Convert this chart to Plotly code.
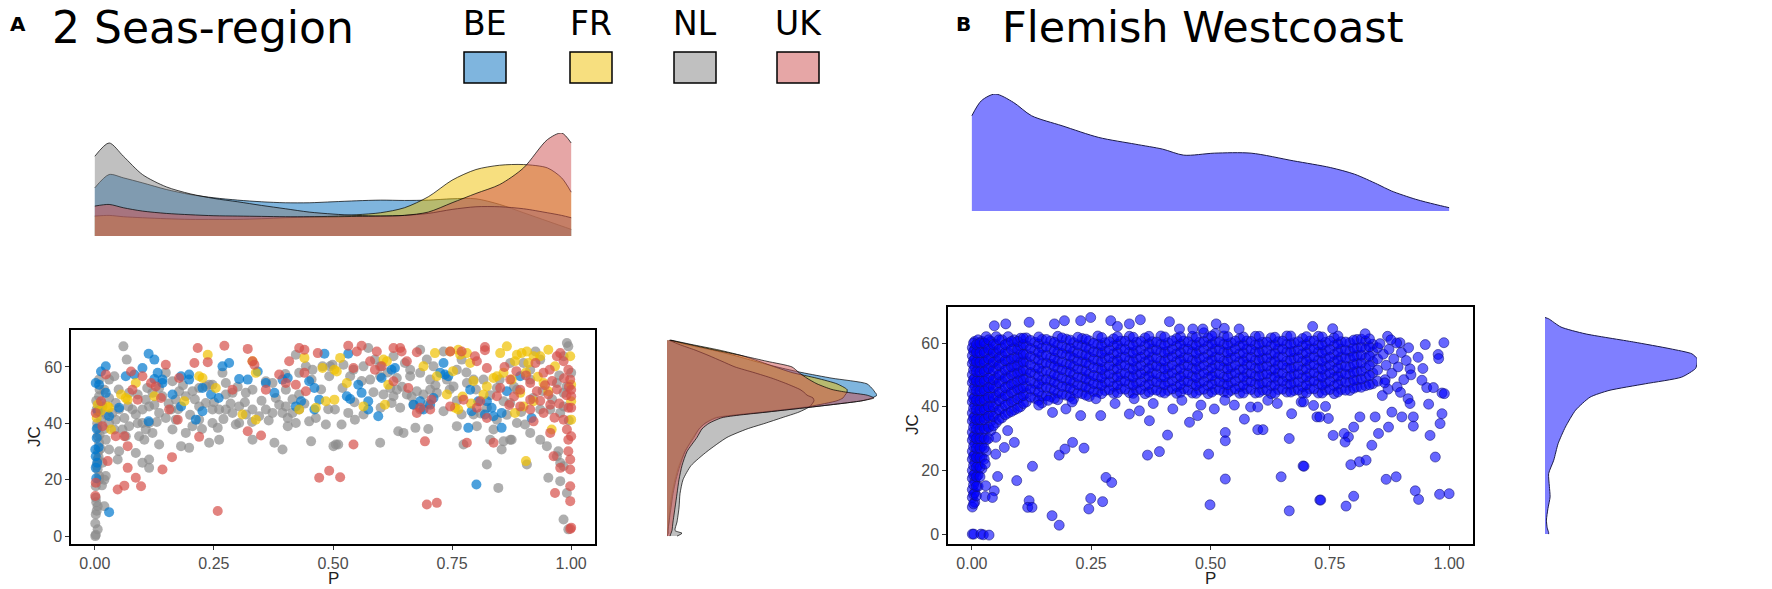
import plotly.graph_objects as go

W, H = 1772, 589

# ---------------- data: panel A (2 Seas-region) ----------------
groups = ["BE", "FR", "NL", "UK"]

be_pts = [(0.113,64.7),(0.125,62.6),(0.013,58.4),(0.023,60.2),(0.002,54.3),(0.009,53.7),(0.023,50.8),(0.006,44.3),
          (0.004,38.1),(0.004,34.8),(0.002,28.3),(0.001,30.7),(0.002,24.2),(0.030,8.5),(0.030,42.5),(0.051,45.5),
          (0.065,56.7),(0.083,57.3),(0.100,59.6),(0.125,55.7),(0.132,57.9),(0.142,55.5),(0.142,54.3),(0.163,50.2),
          (0.181,56.7),(0.198,57.3),(0.198,55.5),(0.226,44.3),(0.226,52.5),(0.244,50.2),(0.260,49.0),(0.268,60.2),
          (0.282,61.4),(0.303,55.7),(0.321,55.5),(0.342,58.4),(0.359,54.3),(0.377,50.8),(0.394,55.5),(0.405,56.1),
          (0.422,46.0),(0.433,47.8),(0.450,54.9),(0.461,52.5),(0.471,48.4),(0.461,44.9),(0.482,64.7),(0.113,40.7),
          (0.181,46.0),(0.212,41.3),(0.532,64.7),(0.529,49.6),(0.553,53.7),(0.560,50.8),(0.574,47.8),(0.574,44.9),
          (0.595,42.5),(0.602,56.1),(0.623,59.0),(0.630,59.6),(0.669,46.6),(0.683,47.8),(0.690,44.9),(0.704,46.6),
          (0.711,49.0),(0.725,57.9),(0.735,57.3),(0.732,61.4),(0.742,56.7),(0.788,51.9),(0.784,38.4),(0.791,44.3),
          (0.805,47.8),(0.823,47.8),(0.819,43.1),(0.833,45.5),(0.837,42.5),(0.854,43.7),(0.854,38.4),(0.865,51.4),
          (0.893,56.7),(0.917,41.9),(0.801,18.3),(0.536,48.6),(0.003,20.5),(0.005,26.0),(0.008,31.5)]

fr_pts = [(0.237,64.3),(0.219,56.7),(0.226,56.1),(0.086,54.3),(0.055,50.2),(0.065,49.0),(0.069,48.4),(0.027,46.0),
          (0.030,45.5),(0.006,46.6),(0.034,37.8),(0.125,49.6),(0.188,47.8),(0.254,52.5),(0.310,43.1),(0.338,41.3),
          (0.338,57.9),(0.429,44.9),(0.464,45.5),(0.485,47.8),(0.478,59.6),(0.503,59.0),(0.503,48.4),(0.440,63.2),
          (0.331,62.0),(0.515,63.2),(0.508,58.4),(0.529,54.3),(0.606,62.6),(0.613,62.0),(0.616,53.7),(0.609,46.6),
          (0.564,46.0),(0.690,60.2),(0.714,64.9),(0.718,56.7),(0.746,65.5),(0.763,66.1),(0.767,64.3),(0.781,64.9),
          (0.788,61.4),(0.739,50.2),(0.756,45.5),(0.763,44.9),(0.816,50.2),(0.823,53.1),(0.837,56.1),(0.844,56.7),
          (0.851,64.9),(0.865,67.3),(0.882,62.0),(0.886,64.3),(0.896,64.9),(0.907,65.5),(0.910,61.4),(0.921,63.8),
          (0.935,63.8),(0.952,66.1),(0.966,60.2),(0.942,54.3),(0.952,51.4),(0.921,47.8),(0.893,50.8),(0.882,43.7),
          (0.900,46.0),(0.959,37.8),(0.998,63.8),(1.000,47.8),(1.000,41.3),(1.000,53.7),(0.905,26.6),(0.875,55.5),
          (0.858,57.9),(0.004,42.0),(0.012,44.5),(0.752,58.5),(0.795,55.0),(0.772,49.5),(0.790,47.0),(0.905,58.0),
          (0.930,56.5)]

nl_pts = [(0.060,67.3),(0.067,62.6),(0.041,56.7),(0.030,55.5),(0.009,49.6),(0.016,46.0),(0.037,43.7),(0.044,41.3),
          (0.058,37.8),(0.079,44.9),(0.086,43.1),(0.100,44.9),(0.114,46.0),(0.125,46.6),(0.135,43.7),(0.100,40.1),
          (0.107,37.8),(0.121,36.6),(0.093,35.4),(0.104,34.2),(0.135,32.5),(0.114,27.2),(0.114,24.2),(0.086,29.5),
          (0.051,30.1),(0.048,27.2),(0.023,34.2),(0.030,30.7),(0.009,33.1),(0.006,27.2),(0.006,23.6),(0.009,20.1),
          (0.002,17.7),(0.002,13.6),(0.006,10.6),(0.002,7.7),(0.006,2.4),(0.001,0.0),(0.020,10.6),(0.009,21.3),
          (0.149,41.9),(0.160,44.9),(0.170,41.3),(0.163,37.8),(0.181,31.9),(0.198,31.3),(0.191,36.6),(0.205,39.0),
          (0.219,41.3),(0.219,46.0),(0.233,47.2),(0.247,44.9),(0.261,44.9),(0.275,44.9),(0.289,43.7),(0.303,46.0),
          (0.317,43.1),(0.303,40.1),(0.296,39.6),(0.258,38.4),(0.247,40.1),(0.240,33.1),(0.261,34.2),(0.331,44.9),
          (0.345,42.5),(0.359,44.9),(0.373,43.7),(0.387,46.6),(0.401,46.0),(0.405,41.9),(0.405,39.0),(0.422,40.1),
          (0.394,43.7),(0.415,43.7),(0.429,44.9),(0.454,33.6),(0.485,39.6),(0.506,32.5),(0.450,40.7),(0.359,54.9),
          (0.373,54.3),(0.331,51.9),(0.317,50.8),(0.289,50.8),(0.275,54.3),(0.247,53.7),(0.233,53.1),(0.219,52.5),
          (0.205,51.4),(0.177,51.4),(0.163,54.9),(0.149,57.9),(0.135,52.5),(0.121,50.8),(0.107,48.4),(0.090,50.2),
          (0.072,50.8),(0.051,44.9),(0.062,41.9),(0.072,39.0),(0.030,40.1),(0.041,37.8),(0.429,57.9),(0.443,60.2),
          (0.457,59.0),(0.478,60.2),(0.492,56.7),(0.499,60.8),(0.401,51.9),(0.422,64.3),(0.429,50.2),(0.464,41.9),
          (0.377,33.1),(0.394,30.7),(0.331,34.2),(0.240,53.7),(0.268,57.9),(0.275,50.2),(0.191,49.6),(0.170,48.4),
          (0.142,49.6),(0.114,40.1),(0.023,21.3),(0.016,26.0),(0.006,35.4),(0.006,38.4),(0.013,41.3),(0.020,51.9),
          (0.009,55.5),(0.030,49.0),(0.044,47.2),(0.100,26.0),(0.065,35.4),(0.003,48.0),(0.004,45.0),(0.005,40.0),
          (0.010,36.0),(0.012,31.0),(0.008,28.0),(0.004,25.0),(0.015,18.0),(0.020,20.0),(0.003,12.0),(0.004,9.0),
          (0.001,4.5),(0.002,0.5),(0.007,30.0),(0.012,44.0),(0.015,47.0),(0.025,43.0),(0.020,38.0),(0.010,52.0),
          (0.574,66.7),(0.588,62.6),(0.599,60.2),(0.627,63.8),(0.651,61.4),(0.662,59.0),(0.697,62.6),(0.711,60.2),
          (0.732,65.5),(0.739,55.5),(0.760,59.0),(0.770,62.6),(0.781,54.3),(0.795,55.5),(0.753,53.1),(0.704,55.5),
          (0.683,57.9),(0.662,56.7),(0.634,56.1),(0.620,52.5),(0.599,56.7),(0.578,55.5),(0.564,60.2),(0.543,59.0),
          (0.522,60.8),(0.494,60.2),(0.504,44.9),(0.532,43.7),(0.546,41.3),(0.564,43.1),(0.634,51.9),(0.655,50.2),
          (0.676,51.4),(0.690,50.2),(0.704,51.9),(0.718,50.8),(0.732,44.3),(0.683,44.9),(0.669,46.6),(0.606,50.2),
          (0.623,47.2),(0.627,49.6),(0.641,45.5),(0.518,39.6),(0.511,32.5),(0.599,33.1),(0.637,37.2),(0.648,36.6),
          (0.673,38.4),(0.700,38.0),(0.760,39.0),(0.770,43.1),(0.774,32.5),(0.795,43.1),(0.823,45.5),(0.837,37.8),
          (0.844,41.3),(0.858,33.6),(0.823,25.4),(0.847,17.1),(0.854,30.7),(0.875,34.2),(0.886,40.1),(0.872,47.2),
          (0.886,51.9),(0.858,47.8),(0.844,52.5),(0.900,61.4),(0.914,59.0),(0.925,65.5),(0.935,62.6),(0.914,55.5),
          (0.935,44.9),(0.956,44.9),(0.977,43.7),(0.984,46.0),(0.991,68.5),(0.994,67.3),(0.984,63.8),(0.970,54.3),
          (0.984,50.8),(1.000,57.9),(0.903,39.6),(0.914,36.6),(0.935,34.2),(0.949,31.9),(0.973,30.1),(0.970,28.3),
          (0.977,26.0),(0.984,24.8),(0.952,20.7),(0.977,19.5),(0.991,15.3),(0.984,5.9),(0.994,2.4),(0.907,25.4),
          (0.830,34.2),(0.872,34.2),(0.802,39.0),(0.501,31.9),(0.816,55.5),(0.872,61.4),(0.683,66.1),(0.536,56.7),
          (0.050,52.0),(0.070,46.0),(0.090,40.0),(0.110,52.5),(0.130,40.5),(0.155,47.0),(0.175,45.0),(0.185,53.5),
          (0.200,43.0),(0.210,48.5),(0.225,38.0),(0.250,47.5),(0.270,41.5),(0.285,47.0),(0.300,53.0),(0.315,47.5),
          (0.330,40.5),(0.350,48.0),(0.365,41.0),(0.380,49.0),(0.400,57.5),(0.415,48.5),(0.440,47.0),(0.455,55.5),
          (0.475,52.0),(0.490,45.0),(0.520,52.5),(0.545,47.5),(0.560,55.0),(0.585,51.0),(0.600,45.5),(0.615,58.0),
          (0.645,53.0),(0.665,49.5),(0.700,47.0),(0.715,53.5),(0.745,52.0),(0.760,48.0),(0.780,58.0),(0.800,52.0),
          (0.810,43.5),(0.830,50.0),(0.850,55.5),(0.865,43.0),(0.880,53.0),(0.895,44.0),(0.920,49.0),(0.940,51.5),
          (0.960,48.5),(0.975,57.0),(0.990,53.0),(0.995,41.0)]

uk_pts = [(0.216,66.7),(0.272,67.5),(0.321,66.4),(0.209,61.4),(0.237,61.7),(0.331,62.0),(0.335,60.8),(0.429,66.7),
          (0.440,66.1),(0.468,64.9),(0.408,62.0),(0.440,57.9),(0.023,57.3),(0.076,58.4),(0.079,51.9),(0.100,56.7),
          (0.149,60.8),(0.177,56.1),(0.139,49.0),(0.156,44.9),(0.174,41.3),(0.090,48.4),(0.013,47.8),(0.002,43.7),
          (0.016,39.0),(0.044,35.4),(0.069,31.9),(0.062,35.4),(0.027,26.6),(0.069,24.2),(0.086,20.7),(0.097,17.7),
          (0.048,16.5),(0.062,17.9),(0.002,18.9),(0.001,14.2),(0.142,23.6),(0.162,28.0),(0.219,35.2),(0.258,8.9),
          (0.321,37.2),(0.349,35.7),(0.359,51.9),(0.387,57.3),(0.401,54.3),(0.422,53.7),(0.443,51.4),(0.471,20.7),
          (0.492,23.2),(0.118,54.3),(0.128,53.1),(0.289,51.9),(0.532,67.5),(0.550,65.5),(0.592,65.5),(0.627,66.7),
          (0.641,66.7),(0.644,65.5),(0.676,65.2),(0.746,65.5),(0.770,65.5),(0.798,63.8),(0.819,67.1),(0.819,65.9),
          (0.823,59.6),(0.802,62.0),(0.543,59.6),(0.578,62.0),(0.588,59.0),(0.655,62.0),(0.627,54.9),(0.658,52.5),
          (0.676,43.7),(0.683,45.5),(0.704,44.9),(0.707,48.4),(0.746,46.0),(0.802,45.5),(0.809,47.8),(0.851,52.5),
          (0.872,55.5),(0.893,51.9),(0.914,54.3),(0.925,61.4),(0.942,57.9),(0.970,63.8),(0.977,64.9),(0.984,62.0),
          (0.994,59.0),(0.998,55.5),(1.000,51.9),(1.000,49.6),(0.994,45.5),(0.956,46.6),(0.942,43.7),(0.914,44.9),
          (0.921,40.7),(0.928,51.4),(0.952,50.2),(0.984,41.3),(0.994,34.2),(1.000,35.4),(0.998,27.2),(0.963,28.3),
          (0.977,24.2),(0.998,23.6),(0.998,17.7),(0.998,12.4),(0.966,15.3),(1.000,3.0),(0.781,33.1),(0.837,33.1),
          (0.693,33.6),(0.543,32.5),(0.515,20.9),(0.697,11.2),(0.718,11.8),(0.560,67.5),(0.602,60.2),(0.774,48.4),
          (0.823,41.9),(0.914,48.4),(0.893,46.0),(0.844,49.6),(1.000,45.5),(0.991,37.8),(0.956,36.6),(0.994,30.1),
          (0.990,50.0),(0.995,53.0),(0.985,56.0),(0.970,52.0),(0.960,55.0),(0.975,47.0),(0.965,42.0),(0.955,59.0),
          (0.935,48.0),(0.945,53.5),(0.905,57.0),(0.885,58.5),(0.860,60.0),(0.870,46.5),(0.880,49.5),(0.998,2.5)]

# marginal densities of panel A (arbitrary height units)
dens_top_p = [0, 0.03, 0.06, 0.1, 0.15, 0.2, 0.25, 0.3, 0.35, 0.4, 0.45, 0.5, 0.55, 0.6, 0.65, 0.7, 0.75,
              0.8, 0.85, 0.9, 0.95, 0.98, 1.0]
dens_top = {
    "BE": [1.45, 1.85, 1.75, 1.60, 1.40, 1.25, 1.15, 1.08, 1.03, 1.00, 1.00, 1.03, 1.06, 1.08, 1.07, 1.08, 1.12,
           1.12, 0.95, 0.70, 0.45, 0.30, 0.20],
    "FR": [0.60, 0.62, 0.58, 0.55, 0.52, 0.50, 0.50, 0.50, 0.52, 0.55, 0.57, 0.60, 0.64, 0.70, 0.85, 1.18, 1.68,
           2.00, 2.13, 2.15, 2.05, 1.75, 1.32],
    "NL": [2.40, 2.80, 2.40, 1.85, 1.48, 1.27, 1.13, 1.03, 0.92, 0.82, 0.72, 0.66, 0.62, 0.60, 0.62, 0.68, 0.80,
           0.88, 0.88, 0.82, 0.70, 0.62, 0.55],
    "UK": [0.90, 0.95, 0.85, 0.75, 0.68, 0.64, 0.61, 0.60, 0.59, 0.58, 0.58, 0.58, 0.59, 0.60, 0.62, 0.72, 1.00,
           1.28, 1.55, 2.05, 2.90, 3.10, 2.80],
}
dens_right_jc = [0, 1, 2, 5, 10, 15, 20, 25, 30, 35, 38, 40, 42, 44, 46, 48, 49, 50, 51, 52, 54, 56, 58, 60,
                 62, 64, 66, 68, 69.5]
dens_right = {
    "BE": [0.00, 0.01, 0.01, 0.02, 0.03, 0.05, 0.08, 0.12, 0.18, 0.26, 0.32, 0.38, 0.48, 1.00, 1.50, 1.95, 2.05,
           2.10, 2.08, 2.06, 2.00, 1.65, 1.35, 1.10, 0.88, 0.68, 0.45, 0.18, 0.03],
    "FR": [0.00, 0.01, 0.01, 0.02, 0.04, 0.06, 0.09, 0.13, 0.18, 0.27, 0.32, 0.38, 0.50, 0.95, 1.43, 1.70, 1.76,
           1.78, 1.80, 1.80, 1.70, 1.50, 1.25, 1.08, 0.92, 0.75, 0.52, 0.24, 0.04],
    "NL": [0.10, 0.15, 0.08, 0.10, 0.12, 0.13, 0.16, 0.24, 0.40, 0.60, 0.80, 0.98, 1.15, 1.32, 1.43, 1.47, 1.46,
           1.40, 1.37, 1.33, 1.20, 1.05, 0.87, 0.68, 0.55, 0.42, 0.28, 0.12, 0.02],
    "UK": [0.03, 0.04, 0.05, 0.06, 0.08, 0.10, 0.12, 0.15, 0.20, 0.30, 0.35, 0.42, 0.55, 1.00, 1.50, 1.95, 2.07,
           2.00, 1.80, 1.65, 1.50, 1.40, 1.32, 1.25, 1.00, 0.75, 0.48, 0.22, 0.03],
}

# ---------------- data: panel B (Flemish Westcoast) ----------------
# dense cloud, read column by column
b_col_p = [0.001, 0.006, 0.013, 0.021, 0.030, 0.040, 0.051, 0.063, 0.076, 0.089, 0.102,
           0.114, 0.132, 0.147, 0.165, 0.180, 0.198, 0.213, 0.231, 0.246, 0.264, 0.279, 0.297,
           0.312, 0.330, 0.345, 0.363, 0.378, 0.396, 0.411, 0.429, 0.444, 0.462, 0.477, 0.495,
           0.510, 0.528, 0.543, 0.561, 0.576, 0.594, 0.609, 0.627, 0.642, 0.660, 0.675, 0.693,
           0.708, 0.726, 0.741, 0.759, 0.774, 0.792, 0.807, 0.825, 0.840]
b_col_jc = [
    [8.5, 11.5, 14, 17.5, 20, 23.5, 26, 29.5, 32, 35.5, 38, 41.5, 44, 47.5, 50, 53.5, 56, 58.5],
    [10, 13, 16.5, 19, 22.5, 25, 28.5, 31, 34.5, 37, 40.5, 43, 46.5, 49, 52.5, 55, 58, 60.5],
    [15, 18.5, 21.5, 25, 28, 31.5, 34.5, 37.5, 40.5, 43.5, 46.5, 49.5, 52.5, 55.5, 58.5, 61],
    [20.5, 24, 27.5, 30.5, 34, 37, 40, 43, 46, 49, 52, 55, 58, 60.5],
    [26, 29.5, 33, 36.5, 39.5, 42.5, 45.5, 48.5, 51.5, 54.5, 57, 59.5, 62],
    [32.5, 35.5, 38.5, 41.5, 44.5, 47, 50, 53, 55.5, 58, 60.5],
    [35, 38, 41, 43.5, 46.5, 49, 52, 54.5, 57, 59.5, 62],
    [36.5, 39.5, 42.5, 45, 48, 50.5, 53.5, 56, 58.5, 61],
    [38, 41, 43.5, 46.5, 49, 52, 54.5, 57, 60, 62],
    [39, 42, 45, 47.5, 50.5, 53, 55.5, 58.5, 61],
    [40, 43, 45.5, 48.5, 51, 54, 56.5, 59, 61.5],
    [41.5, 44.2, 46.4, 49.1, 51.3, 54.2, 56.4, 59.1, 61.6],
    [42.6, 45.1, 47.3, 50.2, 52.4, 55.1, 57.7, 60.2],
    [41.2, 43.4, 46.2, 48.3, 51.1, 53.6, 56.2, 58.4, 61.1],
    [43.1, 45.7, 48.2, 50.4, 53.3, 55.4, 58.2, 60.6],
    [42.2, 44.3, 47.1, 49.6, 52.2, 54.3, 57.1, 59.4, 62.1],
    [43.6, 46.2, 48.3, 51.1, 53.4, 56.2, 58.3, 61.2],
    [42.4, 45.2, 47.6, 50.1, 52.7, 55.2, 57.4, 60.1],
    [44.1, 46.4, 49.2, 51.6, 54.1, 56.3, 59.2, 61.4],
    [43.2, 45.6, 48.1, 50.3, 53.2, 55.6, 58.1, 60.7],
    [44.6, 47.1, 49.4, 52.2, 54.4, 57.2, 59.6, 62.2],
    [45.1, 47.6, 50.2, 52.4, 55.3, 57.4, 60.1],
    [44.2, 46.4, 49.1, 51.7, 54.2, 56.6, 59.1, 61.3],
    [45.6, 48.1, 50.3, 53.2, 55.4, 58.2, 60.6],
    [44.4, 47.2, 49.6, 52.1, 54.6, 57.1, 59.4, 62.1],
    [45.2, 47.4, 50.1, 52.6, 55.1, 57.6, 60.2],
    [44.1, 46.6, 49.2, 51.4, 54.1, 56.4, 59.2, 61.6],
    [45.4, 48.2, 50.6, 53.1, 55.6, 58.1, 60.4],
    [44.6, 47.1, 49.3, 52.2, 54.3, 57.2, 59.6, 62.2],
    [45.1, 47.6, 50.2, 52.4, 55.2, 57.4, 60.1],
    [44.2, 46.3, 49.1, 51.6, 54.2, 56.6, 59.1, 61.4],
    [45.6, 48.1, 50.4, 53.2, 55.4, 58.1, 60.6],
    [44.3, 47.2, 49.6, 52.1, 54.6, 57.2, 59.4, 62.1],
    [45.2, 47.4, 50.1, 52.6, 55.1, 57.6, 60.2],
    [44.1, 46.6, 49.2, 51.4, 54.1, 56.4, 59.2, 61.6],
    [45.4, 48.2, 50.6, 53.1, 55.6, 58.1, 60.4, 63.0],
    [44.6, 47.1, 49.3, 52.2, 54.3, 57.2, 59.6, 62.2],
    [45.1, 47.6, 50.2, 52.4, 55.2, 57.4, 60.1],
    [44.2, 46.3, 49.1, 51.6, 54.2, 56.6, 59.1, 61.4],
    [45.6, 48.1, 50.4, 53.2, 55.4, 58.1, 60.6],
    [44.3, 47.2, 49.6, 52.1, 54.6, 57.2, 59.4, 62.1],
    [45.2, 47.4, 50.1, 52.6, 55.1, 57.6, 60.2],
    [44.1, 46.6, 49.2, 51.4, 54.1, 56.4, 59.2, 61.6],
    [45.4, 48.2, 50.6, 53.1, 55.6, 58.1, 60.4],
    [44.6, 47.1, 49.3, 52.2, 54.3, 57.2, 59.6, 62.2],
    [45.1, 47.6, 50.2, 52.4, 55.2, 57.4, 60.1],
    [44.2, 46.3, 49.1, 51.6, 54.2, 56.6, 59.1, 61.4],
    [45.6, 48.1, 50.4, 53.2, 55.4, 58.1, 60.6],
    [44.3, 47.2, 49.6, 52.1, 54.6, 57.2, 59.4, 62.1],
    [45.2, 47.4, 50.1, 52.6, 55.1, 57.6, 60.2],
    [44.1, 46.6, 49.2, 51.4, 54.1, 56.4, 59.2, 61.6],
    [45.4, 48.2, 50.6, 53.1, 55.6, 58.1, 60.4],
    [45.1, 47.6, 50.2, 52.4, 55.2, 57.4, 60.1],
    [46.2, 48.4, 51.1, 53.6, 56.1, 58.4, 61.1],
    [46.6, 49.2, 52.1, 55.2, 58.1, 60.6],
    [47.2, 50.6, 54.1, 57.2, 59.6],
]
b_col2_p = [0.0035, 0.0095, 0.017, 0.026, 0.035, 0.045, 0.057, 0.070, 0.083, 0.096, 0.108,
            0.123, 0.140, 0.156, 0.173, 0.189, 0.206, 0.222, 0.239, 0.255, 0.272, 0.288, 0.305,
            0.321, 0.338, 0.354, 0.371, 0.387, 0.404, 0.420, 0.437, 0.453, 0.470, 0.486, 0.503,
            0.519, 0.536, 0.552, 0.569, 0.585, 0.602, 0.618, 0.635, 0.651, 0.668, 0.684, 0.701,
            0.717, 0.734, 0.750, 0.767, 0.783, 0.800, 0.816, 0.833, 0.850]
b_col2_jc = [
    [9.5, 12.5, 15.5, 18.5, 21.5, 24.5, 27.5, 30.5, 33.5, 36.5, 39.5, 42.5, 45.5, 48.5, 51.5, 54.5, 57.5, 60],
    [12, 15, 18, 21, 24, 27, 30, 33, 36, 39, 42, 45, 48, 51, 54, 57, 59.5],
    [18, 21, 24, 27, 30, 33, 36, 39, 42, 45, 48, 51, 54, 57, 60],
    [23.5, 27, 30, 33, 36, 39, 42, 45, 48, 51, 54, 57, 60],
    [30, 33.5, 37, 40, 43, 46, 49, 52, 55, 58, 61],
    [34, 37, 40, 43, 46, 48.5, 51.5, 54, 57, 59.5],
    [36, 39, 42, 44.5, 47.5, 50, 53, 55.5, 58, 61],
    [37.5, 40.5, 43.5, 46, 49, 51.5, 54.5, 57, 59.5],
    [38.5, 41.5, 44.5, 47, 50, 52.5, 55, 58, 60.5],
    [39.5, 42.5, 45.5, 48, 50.5, 53, 55.5, 58, 60.5],
    [41, 43.5, 46, 48.5, 51.5, 54, 56.5, 59.5, 61.5],
    [43.0, 45.6, 48.1, 50.7, 53.2, 55.8, 58.3, 60.8],
    [42.0, 44.6, 47.2, 49.6, 52.1, 54.7, 57.1, 59.7, 61.9],
    [43.4, 46.1, 48.6, 51.2, 53.7, 56.2, 58.8, 61.1],
    [42.6, 45.2, 47.7, 50.1, 52.7, 55.2, 57.6, 60.2],
    [43.9, 46.4, 49.1, 51.6, 54.1, 56.7, 59.2, 61.6],
    [43.2, 45.8, 48.3, 50.8, 53.3, 55.9, 58.4, 60.9],
    [44.3, 46.9, 49.3, 51.9, 54.4, 56.9, 59.4, 61.8],
    [43.6, 46.2, 48.7, 51.2, 53.8, 56.3, 58.7, 61.2],
    [44.8, 47.3, 49.8, 52.3, 54.9, 57.3, 59.9],
    [44.1, 46.7, 49.2, 51.7, 54.2, 56.8, 59.2, 61.7],
    [45.3, 47.8, 50.3, 52.9, 55.4, 57.9, 60.4],
    [44.4, 46.9, 49.4, 52.0, 54.5, 57.0, 59.5, 62.0],
    [45.5, 48.0, 50.5, 53.0, 55.6, 58.0, 60.6],
    [44.2, 46.8, 49.3, 51.8, 54.3, 56.9, 59.3, 61.8],
    [45.4, 47.9, 50.4, 52.9, 55.5, 57.9, 60.5],
    [44.6, 47.0, 49.6, 52.1, 54.6, 57.1, 59.7, 62.1],
    [45.2, 47.8, 50.3, 52.8, 55.3, 57.8, 60.3],
    [44.3, 46.9, 49.4, 51.9, 54.4, 57.0, 59.4, 61.9],
    [45.6, 48.1, 50.6, 53.1, 55.7, 58.1, 60.7],
    [44.5, 47.0, 49.5, 52.0, 54.6, 57.0, 59.6, 62.0],
    [45.3, 47.9, 50.4, 52.9, 55.4, 58.0, 60.4],
    [44.2, 46.7, 49.2, 51.8, 54.3, 56.8, 59.3, 61.8],
    [45.5, 48.0, 50.5, 53.0, 55.5, 58.1, 60.5, 63.2],
    [44.6, 47.1, 49.7, 52.2, 54.7, 57.2, 59.7, 62.2],
    [45.3, 47.8, 50.3, 52.9, 55.4, 57.9, 60.4],
    [44.4, 46.9, 49.4, 51.9, 54.5, 57.0, 59.5, 62.0],
    [45.6, 48.1, 50.6, 53.1, 55.6, 58.2, 60.6],
    [44.3, 46.8, 49.3, 51.8, 54.4, 56.9, 59.4, 61.9],
    [45.4, 47.9, 50.4, 53.0, 55.5, 58.0, 60.5],
    [44.5, 47.1, 49.6, 52.1, 54.6, 57.1, 59.7, 62.1],
    [45.2, 47.7, 50.3, 52.8, 55.3, 57.8, 60.3],
    [44.2, 46.8, 49.3, 51.8, 54.3, 56.8, 59.4, 61.8],
    [45.5, 48.0, 50.5, 53.1, 55.6, 58.1, 60.6],
    [44.6, 47.1, 49.6, 52.1, 54.7, 57.2, 59.7, 62.2],
    [45.3, 47.8, 50.3, 52.8, 55.4, 57.9, 60.4],
    [44.4, 46.9, 49.4, 52.0, 54.5, 57.0, 59.5, 62.0],
    [45.6, 48.1, 50.7, 53.2, 55.7, 58.2, 60.7],
    [44.3, 46.8, 49.3, 51.8, 54.3, 56.9, 59.4, 61.9],
    [45.4, 48.0, 50.5, 53.0, 55.5, 58.0, 60.6],
    [44.6, 47.1, 49.6, 52.2, 54.7, 57.2, 59.7, 62.2],
    [45.2, 47.7, 50.2, 52.7, 55.3, 57.8, 60.3],
    [45.8, 48.3, 50.8, 53.3, 55.8, 58.4, 60.9],
    [46.1, 48.7, 51.2, 53.7, 56.2, 58.7, 61.2],
    [46.9, 49.8, 52.9, 55.9, 58.8, 61.3],
    [48.0, 51.5, 55.0, 58.5],
]
b_pts = [(0.047,65.4),(0.071,66.0),(0.120,66.5),(0.173,66.0),(0.194,67.0),(0.228,67.0),(0.249,68.0),(0.291,67.0),
         (0.305,65.2),(0.330,66.0),(0.353,67.3),(0.414,66.7),(0.435,64.4),(0.463,64.4),(0.484,64.4),(0.512,66.0),
         (0.529,64.6),(0.560,64.4),(0.169,38.2),(0.197,39.3),(0.228,37.2),(0.270,37.2),(0.330,37.7),(0.351,38.7),
         (0.372,35.6),(0.421,39.3),(0.456,35.1),(0.473,37.2),(0.508,39.3),(0.571,36.1),(0.075,32.5),(0.050,30.4),
         (0.089,28.8),(0.068,27.2),(0.050,25.1),(0.028,22.0),(0.054,18.1),(0.029,15.2),(0.047,13.6),(0.028,11.8),
         (0.043,11.5),(0.094,16.8),(0.127,21.3),(0.120,10.5),(0.117,8.4),(0.126,8.4),(0.168,5.8),(0.183,2.8),
         (0.183,24.8),(0.195,26.7),(0.211,28.8),(0.235,27.0),(0.249,11.2),(0.245,7.9),(0.274,10.2),(0.281,17.8),
         (0.293,16.2),(0.368,24.8),(0.393,25.9),(0.410,31.1),(0.496,25.1),(0.499,9.2),(0.531,31.9),(0.531,29.3),
         (0.531,17.3),(0.001,0.0),(0.004,0.0),(0.019,0.0),(0.024,-0.2),(0.036,-0.3),(0.599,32.8),(0.648,18.0),
         (0.665,30.0),(0.665,7.3),(0.670,37.8),(0.694,21.4),(0.729,10.7),(0.723,36.8),(0.741,40.1),(0.584,39.9),
         (0.599,39.9),(0.610,32.8),(0.620,42.0),(0.640,41.0),(0.690,41.5),(0.140,40.5),(0.160,42.0),(0.210,41.5),
         (0.260,42.5),(0.300,41.0),(0.340,42.5),(0.380,41.0),(0.440,42.0),(0.480,40.5),(0.530,42.0),(0.550,40.5),
         (0.714,65.2),(0.756,64.5),(0.824,62.9),(0.871,62.1),(0.897,60.1),(0.989,60.1),(0.977,56.4),(0.978,55.1),
         (0.855,59.8),(0.918,51.9),(0.943,48.3),(0.953,46.0),(0.967,46.0),(0.985,44.3),(0.990,44.1),(0.866,48.5),
         (0.891,46.2),(0.914,42.5),(0.918,41.0),(0.957,40.8),(0.985,37.8),(0.981,34.7),(0.960,31.0),(0.901,36.8),
         (0.925,36.8),(0.925,33.9),(0.873,33.6),(0.852,31.6),(0.838,27.9),(0.789,30.5),(0.782,28.9),(0.757,31.0),
         (0.747,36.3),(0.729,36.8),(0.780,31.6),(0.800,33.6),(0.813,36.8),(0.845,36.8),(0.880,38.3),(0.971,24.2),
         (0.889,18.0),(0.868,17.2),(0.794,21.8),(0.812,22.7),(0.826,23.2),(0.696,21.3),(0.731,10.7),(0.784,8.8),
         (0.800,11.9),(0.929,13.6),(0.936,10.9),(0.980,12.5),(1.000,12.7),(0.695,41.5),(0.716,40.4),(0.862,56.5),
         (0.868,53.0),(0.874,58.0),(0.880,50.5),(0.884,55.0),(0.890,60.0),(0.893,52.5),(0.900,57.0),(0.905,48.5),
         (0.910,54.5),(0.915,58.5),(0.920,50.0),(0.872,45.5),(0.860,43.5),(0.935,55.5),(0.945,52.0),(0.950,59.5),
         (0.878,61.0),(0.865,47.5),(0.898,44.5)]

b_top_p = [0, 0.02, 0.049, 0.087, 0.125, 0.189, 0.266, 0.342, 0.4, 0.444, 0.508, 0.585, 0.674, 0.751, 0.802,
           0.85, 0.879, 0.93, 0.97, 1.0]
b_top = [2.85, 3.30, 3.50, 3.25, 2.85, 2.55, 2.20, 2.00, 1.85, 1.67, 1.73, 1.73, 1.50, 1.30, 1.10, 0.80, 0.60,
         0.35, 0.20, 0.10]
b_right_jc = [0, 0.5, 2, 4.4, 8, 11.7, 15, 19, 23.2, 28.4, 33.6, 38.9, 43, 45.1, 47.2, 49.3, 52, 53.5, 55.1,
              56.6, 58.2, 60.3, 62.9, 65, 67.6, 68]
b_right = [0.05, 0.05, 0.03, 0.02, 0.04, 0.07, 0.06, 0.05, 0.12, 0.18, 0.28, 0.42, 0.62, 0.88, 1.38, 1.88,
           2.07, 2.09, 2.09, 2.02, 1.72, 1.22, 0.55, 0.22, 0.05, 0.0]

# ---------------- styling ----------------
dot_col = {"BE": "rgba(0,120,205,0.70)", "FR": "rgba(240,192,0,0.70)",
           "NL": "rgba(140,140,140,0.70)", "UK": "rgba(214,78,72,0.70)"}
fill_col = {"BE": "rgba(0,107,189,0.5)", "FR": "rgba(239,191,0,0.5)",
            "NL": "rgba(129,129,129,0.5)", "UK": "rgba(205,77,77,0.5)"}
pts = {"BE": be_pts, "FR": fr_pts, "NL": nl_pts, "UK": uk_pts}


def fx(px):
    return px / W


def fy(py):
    return 1 - py / H


fig = go.Figure()

# panel A scatter
for g in ["NL", "BE", "FR", "UK"]:
    fig.add_trace(go.Scatter(x=[p for p, _ in pts[g]], y=[j for _, j in pts[g]], mode="markers",
                             marker=dict(size=10, color=dot_col[g], line=dict(width=0)),
                             xaxis="x", yaxis="y", hoverinfo="skip"))

# panel A marginal densities
for g in groups:
    fig.add_trace(go.Scatter(x=dens_top_p, y=dens_top[g], mode="lines", fill="tozeroy",
                             fillcolor=fill_col[g], line=dict(color="rgba(0,0,0,0.7)", width=1,
                                                              shape="spline", smoothing=0.8),
                             xaxis="x2", yaxis="y2", hoverinfo="skip"))
    fig.add_trace(go.Scatter(x=dens_right[g], y=dens_right_jc, mode="lines", fill="tozerox",
                             fillcolor=fill_col[g], line=dict(color="rgba(0,0,0,0.7)", width=1,
                                                              shape="spline", smoothing=0.6),
                             xaxis="x3", yaxis="y3", hoverinfo="skip"))

# panel B scatter
bx, by = [], []
for cols_p, cols_jc in [(b_col_p, b_col_jc), (b_col2_p, b_col2_jc)]:
    for p, col in zip(cols_p, cols_jc):
        for j in col:
            bx.append(p)
            by.append(j)
bx += [p for p, _ in b_pts]
by += [j for _, j in b_pts]
fig.add_trace(go.Scatter(x=bx, y=by, mode="markers",
                         marker=dict(size=10, color="rgba(0,0,255,0.6)",
                                     line=dict(width=0.8, color="rgba(20,20,120,0.7)")),
                         xaxis="x4", yaxis="y4", hoverinfo="skip"))

fig.add_trace(go.Scatter(x=b_top_p, y=b_top, mode="lines", fill="tozeroy", fillcolor="rgba(0,0,255,0.5)",
                         line=dict(color="#1a1a4a", width=1, shape="spline", smoothing=0.8),
                         xaxis="x5", yaxis="y5", hoverinfo="skip"))
fig.add_trace(go.Scatter(x=b_right, y=b_right_jc, mode="lines", fill="tozerox", fillcolor="rgba(0,0,255,0.5)",
                         line=dict(color="#1a1a4a", width=1, shape="spline", smoothing=0.6),
                         xaxis="x6", yaxis="y6", hoverinfo="skip"))

tick_font = dict(family="Liberation Sans, Arial, sans-serif", size=16, color="#4d4d4d")
ax_x = dict(range=[-0.05, 1.05], tickvals=[0, 0.25, 0.5, 0.75, 1],
            ticktext=["0.00", "0.25", "0.50", "0.75", "1.00"], ticks="outside", ticklen=4,
            tickcolor="#333333", showline=True, mirror=True, linecolor="black", linewidth=1.5,
            showgrid=False, zeroline=False, tickfont=tick_font)
ax_y = dict(tickvals=[0, 20, 40, 60], ticks="outside", ticklen=4, tickcolor="#333333", showline=True,
            mirror=True, linecolor="black", linewidth=1.5, showgrid=False, zeroline=False, tickfont=tick_font)
hidden = dict(visible=False, showgrid=False, zeroline=False)

ya_rng = [-2.8, 73.1]
yb_rng = [-3.1, 71.3]

fig.update_layout(
    width=W, height=H, margin=dict(l=0, r=0, t=0, b=0), showlegend=False,
    paper_bgcolor="white", plot_bgcolor="white",
    xaxis=dict(ax_x, domain=[fx(71), fx(595)], anchor="y"),
    yaxis=dict(ax_y, domain=[fy(544), fy(330)], range=ya_rng, anchor="x"),
    xaxis2=dict(hidden, domain=[fx(71), fx(595)], range=[-0.05, 1.05], anchor="y2"),
    yaxis2=dict(hidden, domain=[fy(236), fy(133)], range=[0, 3.1], anchor="x2"),
    xaxis3=dict(hidden, domain=[fx(667), fx(877)], range=[0, 2.1], anchor="y3"),
    yaxis3=dict(hidden, domain=[fy(544), fy(330)], range=ya_rng, anchor="x3"),
    xaxis4=dict(ax_x, domain=[fx(948), fx(1473)], anchor="y4"),
    yaxis4=dict(ax_y, domain=[fy(544), fy(307)], range=yb_rng, anchor="x4"),
    xaxis5=dict(hidden, domain=[fx(948), fx(1473)], range=[-0.05, 1.05], anchor="y5"),
    yaxis5=dict(hidden, domain=[fy(211), fy(94)], range=[0, 3.5], anchor="x5"),
    xaxis6=dict(hidden, domain=[fx(1545), fx(1697)], range=[0, 2.09], anchor="y6"),
    yaxis6=dict(hidden, domain=[fy(544), fy(307)], range=yb_rng, anchor="x6"),
)

ann = []


def add_text(txt, x, y, size, family, anchor="left", angle=0, color="black", vanchor="middle"):
    ann.append(dict(text=txt, x=fx(x), y=fy(y), xref="paper", yref="paper", xanchor=anchor,
                    yanchor=vanchor, showarrow=False, textangle=angle,
                    font=dict(size=size, family=family, color=color)))


add_text("<b>A</b>", 8, 24, 20, "DejaVu Sans, sans-serif")
add_text("2 Seas-region", 50, 0.5, 44, "DejaVu Sans, sans-serif", vanchor="top")
add_text("<b>B</b>", 954, 24, 20, "DejaVu Sans, sans-serif")
add_text("Flemish Westcoast", 1000, 0.5, 43, "DejaVu Sans, sans-serif", vanchor="top")

leg_x = [464, 570, 674, 777]
for g, x0 in zip(groups, leg_x):
    add_text(g, x0 + 21, 23, 33, "DejaVu Sans, sans-serif", anchor="center")
    fig.add_shape(type="rect", xref="paper", yref="paper", x0=fx(x0), x1=fx(x0 + 42), y0=fy(83), y1=fy(52),
                  fillcolor=fill_col[g], line=dict(color="black", width=1.5))

axis_font = "Liberation Sans, Arial, sans-serif"
add_text("P", 333, 578, 17, axis_font, anchor="center", color="#222222")
add_text("JC", 34, 437, 17, axis_font, anchor="center", angle=-90, color="#222222")
add_text("P", 1210, 578, 17, axis_font, anchor="center", color="#222222")
add_text("JC", 912, 425, 17, axis_font, anchor="center", angle=-90, color="#222222")

fig.update_layout(annotations=ann)

# the page's default body margin would push the figure 8px down and right
fig.write_html("out.html", config={"displayModeBar": False},
               post_script="document.body.style.margin='0';")
